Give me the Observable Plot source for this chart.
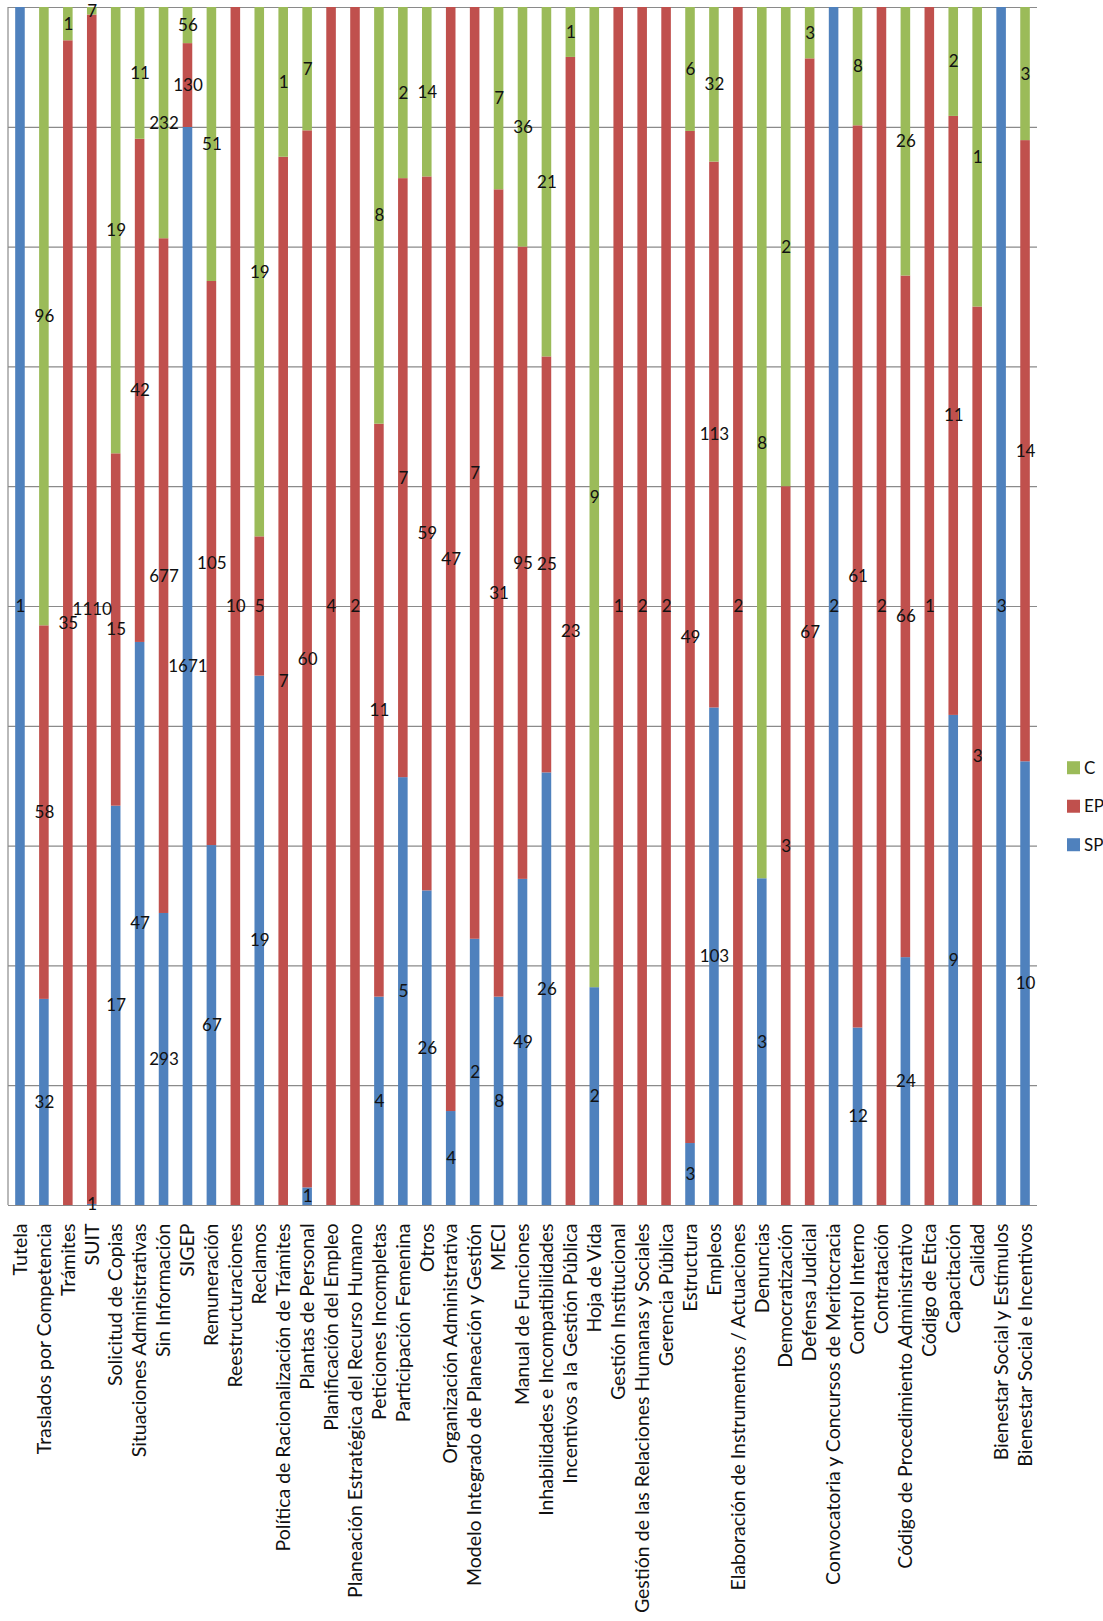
<!DOCTYPE html>
<html>
<head>
<meta charset="utf-8">
<script src="https://cdn.jsdelivr.net/npm/d3@7"></script>
<script src="https://cdn.jsdelivr.net/npm/@observablehq/plot@0.6"></script>
<style>
  html, body { margin: 0; padding: 0; background: #fff; }
  #chart svg { display: block; font-family: Lato, "Open Sans", sans-serif; }
</style>
</head>
<body>
<div id="chart"></div>
<script>
// Consultation topics and counts per type of request
const categories = [
  "Tutela", "Traslados por Competencia", "Trámites", "SUIT", "Solicitud de Copias",
  "Situaciones Administrativas", "Sin Información", "SIGEP", "Remuneración",
  "Reestructuraciones", "Reclamos", "Política de Racionalización de Trámites",
  "Plantas de Personal", "Planificación del Empleo",
  "Planeación Estratégica del Recurso Humano", "Peticiones Incompletas",
  "Participación Femenina", "Otros", "Organización Administrativa",
  "Modelo Integrado de Planeación y Gestión", "MECI", "Manual de Funciones",
  "Inhabilidades e Incompatibilidades", "Incentivos a la Gestión Pública",
  "Hoja de Vida", "Gestión Institucional",
  "Gestión de las Relaciones Humanas y Sociales", "Gerencia Pública",
  "Estructura", "Empleos", "Elaboración de Instrumentos / Actuaciones",
  "Denuncias", "Democratización", "Defensa Judicial",
  "Convocatoria y Concursos de Meritocracia", "Control Interno", "Contratación",
  "Código de Procedimiento Administrativo", "Código de Etica", "Capacitación",
  "Calidad", "Bienestar Social y Estímulos", "Bienestar Social e Incentivos"
];

const seriesSP = [1, 32, 0, 1, 17, 47, 293, 1671, 67, 0, 19, 0, 1, 0, 0, 4, 5, 26, 4, 2, 8, 49, 26, 0, 2, 0, 0, 0, 3, 103, 0, 3, 0, 0, 2, 12, 0, 24, 0, 9, 0, 3, 10];
const seriesEP = [0, 58, 35, 1110, 15, 42, 677, 130, 105, 10, 5, 7, 60, 4, 2, 11, 7, 59, 47, 7, 31, 95, 25, 23, 0, 1, 2, 2, 49, 113, 2, 0, 3, 67, 0, 61, 2, 66, 1, 11, 3, 0, 14];
const seriesC  = [0, 96, 1, 7, 19, 11, 232, 56, 51, 0, 19, 1, 7, 0, 0, 8, 2, 14, 0, 0, 7, 36, 21, 1, 9, 0, 0, 0, 6, 32, 0, 8, 2, 3, 0, 8, 0, 26, 0, 2, 1, 0, 3];

const seriesNames = ["SP", "EP", "C"];
const seriesColors = ["#4F81BD", "#C0504D", "#9BBB59"];
const gridTicks = d3.range(0, 11).map(i => i / 10);

// Long table of non-empty segments
const rows = [];
categories.forEach((cat, i) => {
  [seriesSP, seriesEP, seriesC].forEach((arr, k) => {
    if (arr[i] > 0) rows.push({cat, series: seriesNames[k], value: arr[i]});
  });
});

const stackOpts = {offset: "normalize", order: seriesNames};

const plot = Plot.plot({
  width: 1103,
  height: 1621,
  marginTop: 7,
  marginBottom: 416,
  marginLeft: 8,
  marginRight: 66,
  x: {type: "band", domain: categories, paddingInner: 0.6, paddingOuter: 0.3, label: null},
  y: {domain: [0, 1], axis: null},
  color: {domain: seriesNames, range: seriesColors},
  marks: [
    Plot.ruleY(gridTicks, {stroke: "#8a8a8a", strokeWidth: 1.2}),
    Plot.barY(rows, Plot.stackY(stackOpts, {x: "cat", y: "value", z: "series", fill: "series"})),
    Plot.text(rows, Plot.stackY(stackOpts, {
      x: "cat", y: "value", z: "series", text: d => String(d.value),
      fill: "#111", fontSize: 17
    })),
    Plot.axisX({
      tickRotate: -90, tickSize: 0, tickPadding: 18, fontSize: 19.5,
      fill: "#111", label: null
    })
  ]
});

const svg = d3.select(plot);
const xs = plot.scale("x");
const ys = plot.scale("y");
const left = xs.range[0];
const right = xs.range[1];

// Vertical value axis line on the left
svg.append("line")
  .attr("x1", left).attr("x2", left)
  .attr("y1", ys.apply(0)).attr("y2", ys.apply(1))
  .attr("stroke", "#8a8a8a").attr("stroke-width", 1.2);

// Legend to the right of the plot area (C, EP, SP from top to bottom)
const legendX = right + 30;
const legendY0 = ys.apply(0.365);
const legend = svg.append("g").attr("text-anchor", "start");
seriesNames.slice().reverse().forEach((name, i) => {
  const color = seriesColors[seriesNames.indexOf(name)];
  const cy = legendY0 + i * 38.5;
  legend.append("rect")
    .attr("x", legendX).attr("y", cy - 6.5)
    .attr("width", 13).attr("height", 13)
    .attr("fill", color);
  legend.append("text")
    .attr("x", legendX + 17).attr("y", cy)
    .attr("dy", "0.35em")
    .attr("text-anchor", "start")
    .attr("font-size", 17)
    .attr("fill", "#111")
    .text(name);
});

document.getElementById("chart").appendChild(plot);
</script>
</body>
</html>
